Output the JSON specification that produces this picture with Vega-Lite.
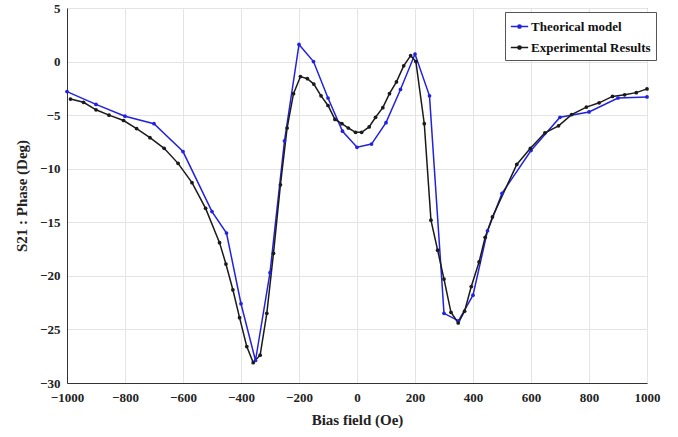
{
  "$schema": "https://vega.github.io/schema/vega-lite/v6.json",
  "autosize": "none",
  "padding": {"left": 67, "top": 8, "right": 31, "bottom": 54},
  "width": 580,
  "height": 375,
  "background": "white",
  "config": {
    "font": "Liberation Serif",
    "view": {"stroke": "#888", "strokeWidth": 1},
    "axis": {
      "labelFont": "Liberation Serif", "labelFontWeight": "bold", "labelFontSize": 13, "labelColor": "#222",
      "titleFont": "Liberation Serif", "titleFontWeight": "bold", "titleFontSize": 15, "titleColor": "#222",
      "gridColor": "#e4e4e4", "gridWidth": 1, "domainColor": "#333", "ticks": false, "labelFlush": false, "format": "d"
    }
  },
  "data": {"values": [
    {"x": -1000, "y": -2.8, "s": "Theorical model"},
    {"x": -900, "y": -4.0, "s": "Theorical model"},
    {"x": -800, "y": -5.1, "s": "Theorical model"},
    {"x": -700, "y": -5.8, "s": "Theorical model"},
    {"x": -600, "y": -8.4, "s": "Theorical model"},
    {"x": -500, "y": -14.0, "s": "Theorical model"},
    {"x": -450, "y": -16.0, "s": "Theorical model"},
    {"x": -400, "y": -22.6, "s": "Theorical model"},
    {"x": -350, "y": -27.9, "s": "Theorical model"},
    {"x": -300, "y": -19.7, "s": "Theorical model"},
    {"x": -250, "y": -7.4, "s": "Theorical model"},
    {"x": -200, "y": 1.6, "s": "Theorical model"},
    {"x": -150, "y": 0.0, "s": "Theorical model"},
    {"x": -100, "y": -3.4, "s": "Theorical model"},
    {"x": -50, "y": -6.5, "s": "Theorical model"},
    {"x": 0, "y": -8.0, "s": "Theorical model"},
    {"x": 50, "y": -7.7, "s": "Theorical model"},
    {"x": 100, "y": -5.7, "s": "Theorical model"},
    {"x": 150, "y": -2.6, "s": "Theorical model"},
    {"x": 200, "y": 0.7, "s": "Theorical model"},
    {"x": 250, "y": -3.2, "s": "Theorical model"},
    {"x": 300, "y": -23.5, "s": "Theorical model"},
    {"x": 350, "y": -24.2, "s": "Theorical model"},
    {"x": 400, "y": -21.8, "s": "Theorical model"},
    {"x": 450, "y": -15.8, "s": "Theorical model"},
    {"x": 500, "y": -12.3, "s": "Theorical model"},
    {"x": 600, "y": -8.3, "s": "Theorical model"},
    {"x": 700, "y": -5.2, "s": "Theorical model"},
    {"x": 800, "y": -4.7, "s": "Theorical model"},
    {"x": 900, "y": -3.4, "s": "Theorical model"},
    {"x": 1000, "y": -3.3, "s": "Theorical model"},
    {"x": -988, "y": -3.5, "s": "Experimental Results"},
    {"x": -943, "y": -3.8, "s": "Experimental Results"},
    {"x": -900, "y": -4.5, "s": "Experimental Results"},
    {"x": -855, "y": -5.0, "s": "Experimental Results"},
    {"x": -805, "y": -5.5, "s": "Experimental Results"},
    {"x": -760, "y": -6.25, "s": "Experimental Results"},
    {"x": -714, "y": -7.1, "s": "Experimental Results"},
    {"x": -665, "y": -8.1, "s": "Experimental Results"},
    {"x": -617, "y": -9.5, "s": "Experimental Results"},
    {"x": -569, "y": -11.3, "s": "Experimental Results"},
    {"x": -522, "y": -13.7, "s": "Experimental Results"},
    {"x": -474, "y": -16.9, "s": "Experimental Results"},
    {"x": -452, "y": -18.9, "s": "Experimental Results"},
    {"x": -428, "y": -21.3, "s": "Experimental Results"},
    {"x": -405, "y": -23.9, "s": "Experimental Results"},
    {"x": -380, "y": -26.6, "s": "Experimental Results"},
    {"x": -358, "y": -28.1, "s": "Experimental Results"},
    {"x": -334, "y": -27.4, "s": "Experimental Results"},
    {"x": -311, "y": -23.5, "s": "Experimental Results"},
    {"x": -288, "y": -17.9, "s": "Experimental Results"},
    {"x": -264, "y": -11.5, "s": "Experimental Results"},
    {"x": -241, "y": -6.2, "s": "Experimental Results"},
    {"x": -219, "y": -3.0, "s": "Experimental Results"},
    {"x": -195, "y": -1.4, "s": "Experimental Results"},
    {"x": -171, "y": -1.6, "s": "Experimental Results"},
    {"x": -149, "y": -2.1, "s": "Experimental Results"},
    {"x": -124, "y": -3.2, "s": "Experimental Results"},
    {"x": -100, "y": -4.1, "s": "Experimental Results"},
    {"x": -76, "y": -5.4, "s": "Experimental Results"},
    {"x": -52, "y": -5.8, "s": "Experimental Results"},
    {"x": -30, "y": -6.2, "s": "Experimental Results"},
    {"x": -5, "y": -6.6, "s": "Experimental Results"},
    {"x": 16, "y": -6.6, "s": "Experimental Results"},
    {"x": 42, "y": -6.1, "s": "Experimental Results"},
    {"x": 64, "y": -5.2, "s": "Experimental Results"},
    {"x": 89, "y": -4.3, "s": "Experimental Results"},
    {"x": 112, "y": -3.0, "s": "Experimental Results"},
    {"x": 136, "y": -1.9, "s": "Experimental Results"},
    {"x": 161, "y": -0.4, "s": "Experimental Results"},
    {"x": 185, "y": 0.55, "s": "Experimental Results"},
    {"x": 203, "y": 0.0, "s": "Experimental Results"},
    {"x": 232, "y": -5.8, "s": "Experimental Results"},
    {"x": 255, "y": -14.8, "s": "Experimental Results"},
    {"x": 278, "y": -17.6, "s": "Experimental Results"},
    {"x": 300, "y": -20.3, "s": "Experimental Results"},
    {"x": 324, "y": -23.4, "s": "Experimental Results"},
    {"x": 349, "y": -24.4, "s": "Experimental Results"},
    {"x": 371, "y": -23.3, "s": "Experimental Results"},
    {"x": 394, "y": -21.0, "s": "Experimental Results"},
    {"x": 421, "y": -18.7, "s": "Experimental Results"},
    {"x": 442, "y": -16.4, "s": "Experimental Results"},
    {"x": 467, "y": -14.5, "s": "Experimental Results"},
    {"x": 551, "y": -9.6, "s": "Experimental Results"},
    {"x": 598, "y": -8.1, "s": "Experimental Results"},
    {"x": 648, "y": -6.65, "s": "Experimental Results"},
    {"x": 695, "y": -6.0, "s": "Experimental Results"},
    {"x": 740, "y": -4.95, "s": "Experimental Results"},
    {"x": 791, "y": -4.25, "s": "Experimental Results"},
    {"x": 835, "y": -3.85, "s": "Experimental Results"},
    {"x": 881, "y": -3.25, "s": "Experimental Results"},
    {"x": 923, "y": -3.1, "s": "Experimental Results"},
    {"x": 963, "y": -2.9, "s": "Experimental Results"},
    {"x": 1000, "y": -2.55, "s": "Experimental Results"}
  ]},
  "mark": {"type": "line", "strokeWidth": 1.5, "point": {"filled": true, "size": 14}},
  "encoding": {
    "x": {"field": "x", "type": "quantitative", "title": "Bias field (Oe)",
      "scale": {"domain": [-1000, 1000], "nice": false},
      "axis": {"values": [-1000, -800, -600, -400, -200, 0, 200, 400, 600, 800, 1000], "labelPadding": 8, "titlePadding": 8}},
    "y": {"field": "y", "type": "quantitative", "title": "S21 : Phase (Deg)",
      "scale": {"domain": [-30, 5], "nice": false},
      "axis": {"values": [-30, -25, -20, -15, -10, -5, 0, 5], "labelPadding": 7, "titlePadding": 10}},
    "color": {"field": "s", "type": "nominal",
      "scale": {"domain": ["Theorical model", "Experimental Results"], "range": ["#2222dd", "#1a1a1a"]},
      "legend": {
        "title": null, "orient": "none", "legendX": 438, "legendY": 4,
        "strokeColor": "#555", "fillColor": "white", "padding": 5, "rowPadding": 4,
        "labelFont": "Liberation Serif", "labelFontWeight": "bold", "labelFontSize": 13, "labelColor": "#111",
        "symbolType": "M-1,0L1,0M-0.18,0A0.18,0.18,0,1,1,0.18,0A0.18,0.18,0,1,1,-0.18,0Z",
        "symbolSize": 300, "symbolStrokeWidth": 1.5, "symbolFillColor": "transparent", "labelOffset": 2
      }
    }
  }
}
